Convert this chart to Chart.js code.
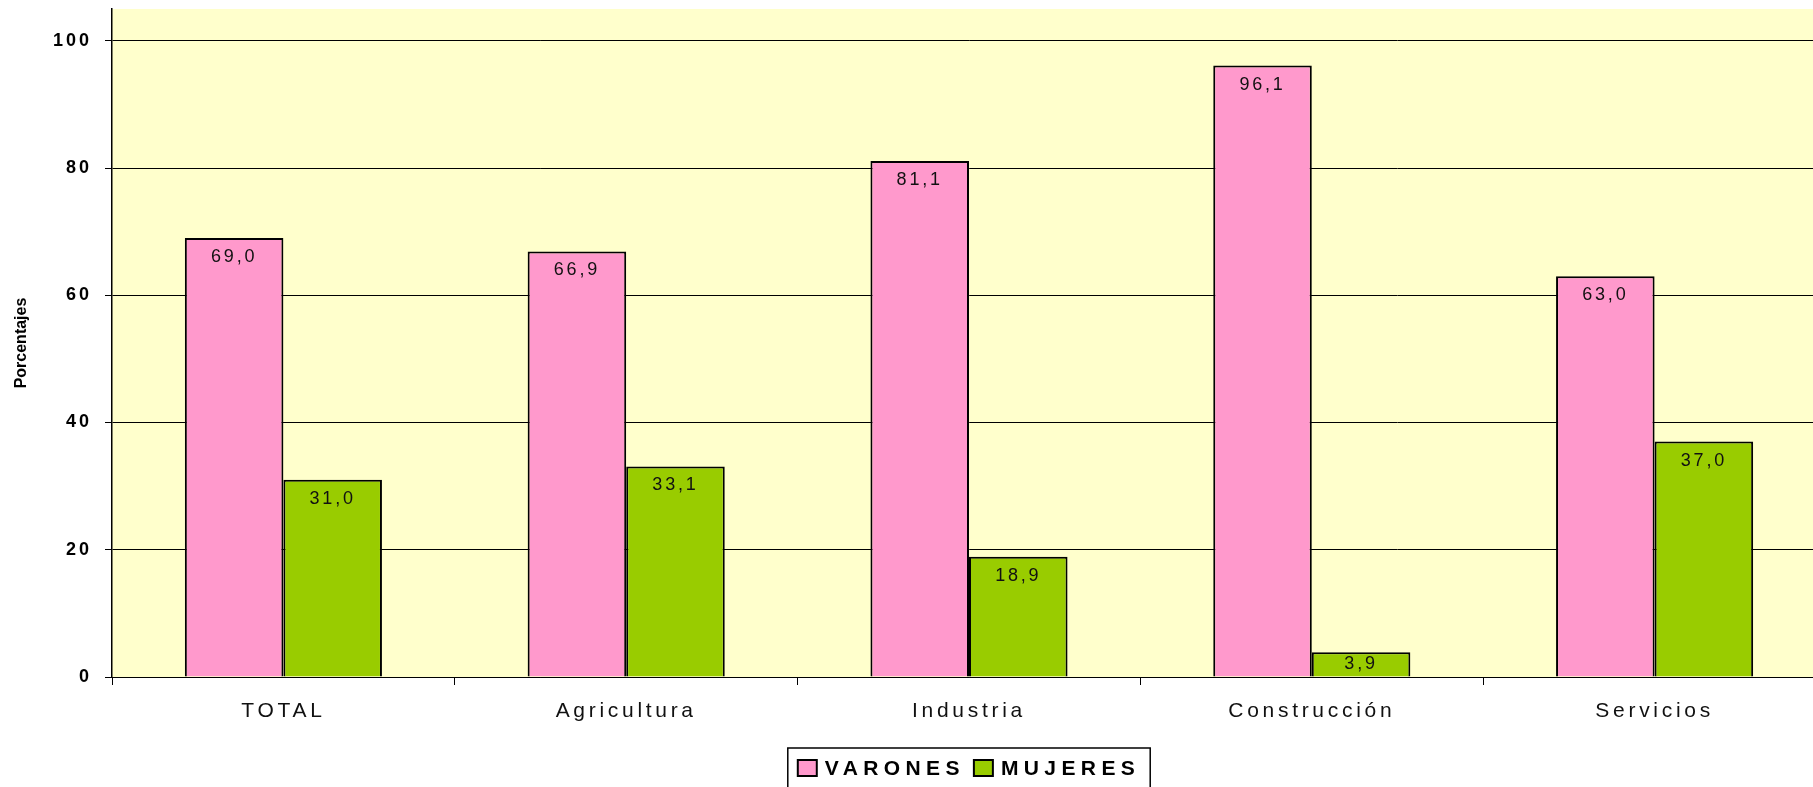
<!DOCTYPE html>
<html>
<head>
<meta charset="utf-8">
<script src="https://cdn.jsdelivr.net/npm/chart.js@4/dist/chart.umd.min.js"></script>
<style>
  html, body { margin: 0; padding: 0; background: #ffffff; overflow: hidden; }
  #wrap { width: 1813px; height: 787px; position: relative; overflow: hidden; }
  #c { position: absolute; left: 0; top: 0; }
</style>
</head>
<body>
<div id="wrap"><canvas id="c" width="1826" height="787"></canvas></div>
<script>
const categories = ['TOTAL', 'Agricultura', 'Industria', 'Construcción', 'Servicios'];
const varones = [69.0, 66.9, 81.1, 96.1, 63.0];
const mujeres = [31.0, 33.1, 18.9, 3.9, 37.0];
const yTicks = [0, 20, 40, 60, 80, 100];
const seriesNames = ['VARONES', 'MUJERES'];
const yTitle = 'Porcentajes';

const FONT = '"Liberation Sans", Arial, "DejaVu Sans", sans-serif';

const spacing = { x: '3.7px', y: '3px' };

const spacingPlugin = {
  id: 'spacing',
  afterUpdate(chart) {
    ['x', 'y'].forEach(id => {
      const s = chart.scales[id];
      if (s && !s._spWrapped) {
        const orig = s.drawLabels.bind(s);
        s.drawLabels = function (ca) {
          const c = this.ctx;
          c.save();
          c.letterSpacing = spacing[id];
          orig(ca);
          c.restore();
        };
        s._spWrapped = true;
      }
    });
  }
};

const bgPlugin = {
  id: 'plotBg',
  beforeDraw(chart) {
    const { ctx, chartArea: a } = chart;
    ctx.save();
    ctx.fillStyle = '#FFFFCC';
    ctx.fillRect(a.left, a.top, a.right - a.left, a.bottom - a.top);
    ctx.restore();
  }
};

const labelPlugin = {
  id: 'barLabels',
  afterDatasetsDraw(chart) {
    const ctx = chart.ctx;
    ctx.save();
    ctx.font = '18px ' + FONT;
    ctx.letterSpacing = '2.8px';
    ctx.fillStyle = '#111111';
    ctx.textAlign = 'center';
    ctx.textBaseline = 'middle';
    chart.data.datasets.forEach((ds, di) => {
      const meta = chart.getDatasetMeta(di);
      meta.data.forEach((bar, i) => {
        const v = ds.data[i];
        const txt = v.toFixed(1).replace('.', ',');
        const y = Math.min(bar.y + 19, (bar.y + bar.base) / 2);
        ctx.fillText(txt, bar.x, y);
      });
    });
    ctx.restore();
  }
};

const legendPlugin = {
  id: 'customLegend',
  afterDraw(chart) {
    const ctx = chart.ctx;
    const a = chart.chartArea;
    ctx.save();
    ctx.font = 'bold 21px ' + FONT;
    ctx.letterSpacing = '5.4px';
    const sw = 19, sh = 16, g1 = 8, g2 = 9, pad = 10;
    const items = chart.data.datasets.map(ds => ({
      label: ds.label, color: ds.backgroundColor, w: ctx.measureText(ds.label).width
    }));
    let content = 0;
    items.forEach((it, i) => { content += sw + g1 + it.w + (i < items.length - 1 ? g2 : 0); });
    const boxW = content + 2 * pad;
    const cx = (a.left + a.right) / 2;
    const left = cx - boxW / 2;
    const top = 748;
    ctx.strokeStyle = '#000';
    ctx.lineWidth = 1.5;
    ctx.strokeRect(left, top, boxW, 60);
    const cy = 768;
    let x = left + pad;
    ctx.textAlign = 'left';
    ctx.textBaseline = 'middle';
    items.forEach(it => {
      ctx.fillStyle = it.color;
      ctx.fillRect(x, cy - sh / 2, sw, sh);
      ctx.strokeStyle = '#000';
      ctx.lineWidth = 2;
      ctx.strokeRect(x, cy - sh / 2, sw, sh);
      x += sw + g1;
      ctx.fillStyle = '#000';
      ctx.fillText(it.label, x, cy + 1);
      x += it.w + g2;
    });
    ctx.restore();
  }
};

new Chart(document.getElementById('c'), {
  type: 'bar',
  data: {
    labels: categories,
    datasets: [
      { label: seriesNames[0], data: varones, backgroundColor: '#FF99CC', borderColor: '#000', borderWidth: 2 },
      { label: seriesNames[1], data: mujeres, backgroundColor: '#99CC00', borderColor: '#000', borderWidth: 2 }
    ]
  },
  options: {
    responsive: false,
    animation: false,
    devicePixelRatio: 1,
    layout: { padding: { top: 9, right: 0, bottom: 0, left: 0 } },
    datasets: { bar: { categoryPercentage: 0.575, barPercentage: 1.0 } },
    plugins: {
      legend: { display: false },
      tooltip: { enabled: false }
    },
    scales: {
      x: {
        offset: true,
        grid: { display: true, offset: true, drawOnChartArea: false, drawTicks: true, tickLength: 8, color: '#000', lineWidth: 1 },
        border: { display: true, color: '#000', width: 1 },
        ticks: { color: '#111', font: { family: FONT, size: 21 }, padding: 14, maxRotation: 0, autoSkip: false },
        afterFit(s) { s.height = 110; s.paddingLeft = 0; s.paddingRight = 0; }
      },
      y: {
        min: 0,
        max: 105,
        afterBuildTicks(s) { s.ticks = yTicks.map(v => ({ value: v })); },
        grid: { color: '#000', lineWidth: 1, tickLength: 7, drawTicks: true },
        border: { display: true, color: '#000', width: 1.5 },
        ticks: { color: '#000', font: { family: FONT, size: 18, weight: 'bold' }, padding: 13 },
        title: { display: true, text: yTitle, color: '#000', font: { family: FONT, size: 16, weight: 'bold' }, padding: { top: 12, bottom: 0 } },
        afterFit(s) { s.width = 112; s.paddingTop = 0; s.paddingBottom = 0; }
      }
    }
  },
  plugins: [spacingPlugin, bgPlugin, labelPlugin, legendPlugin]
});
</script>
</body>
</html>
